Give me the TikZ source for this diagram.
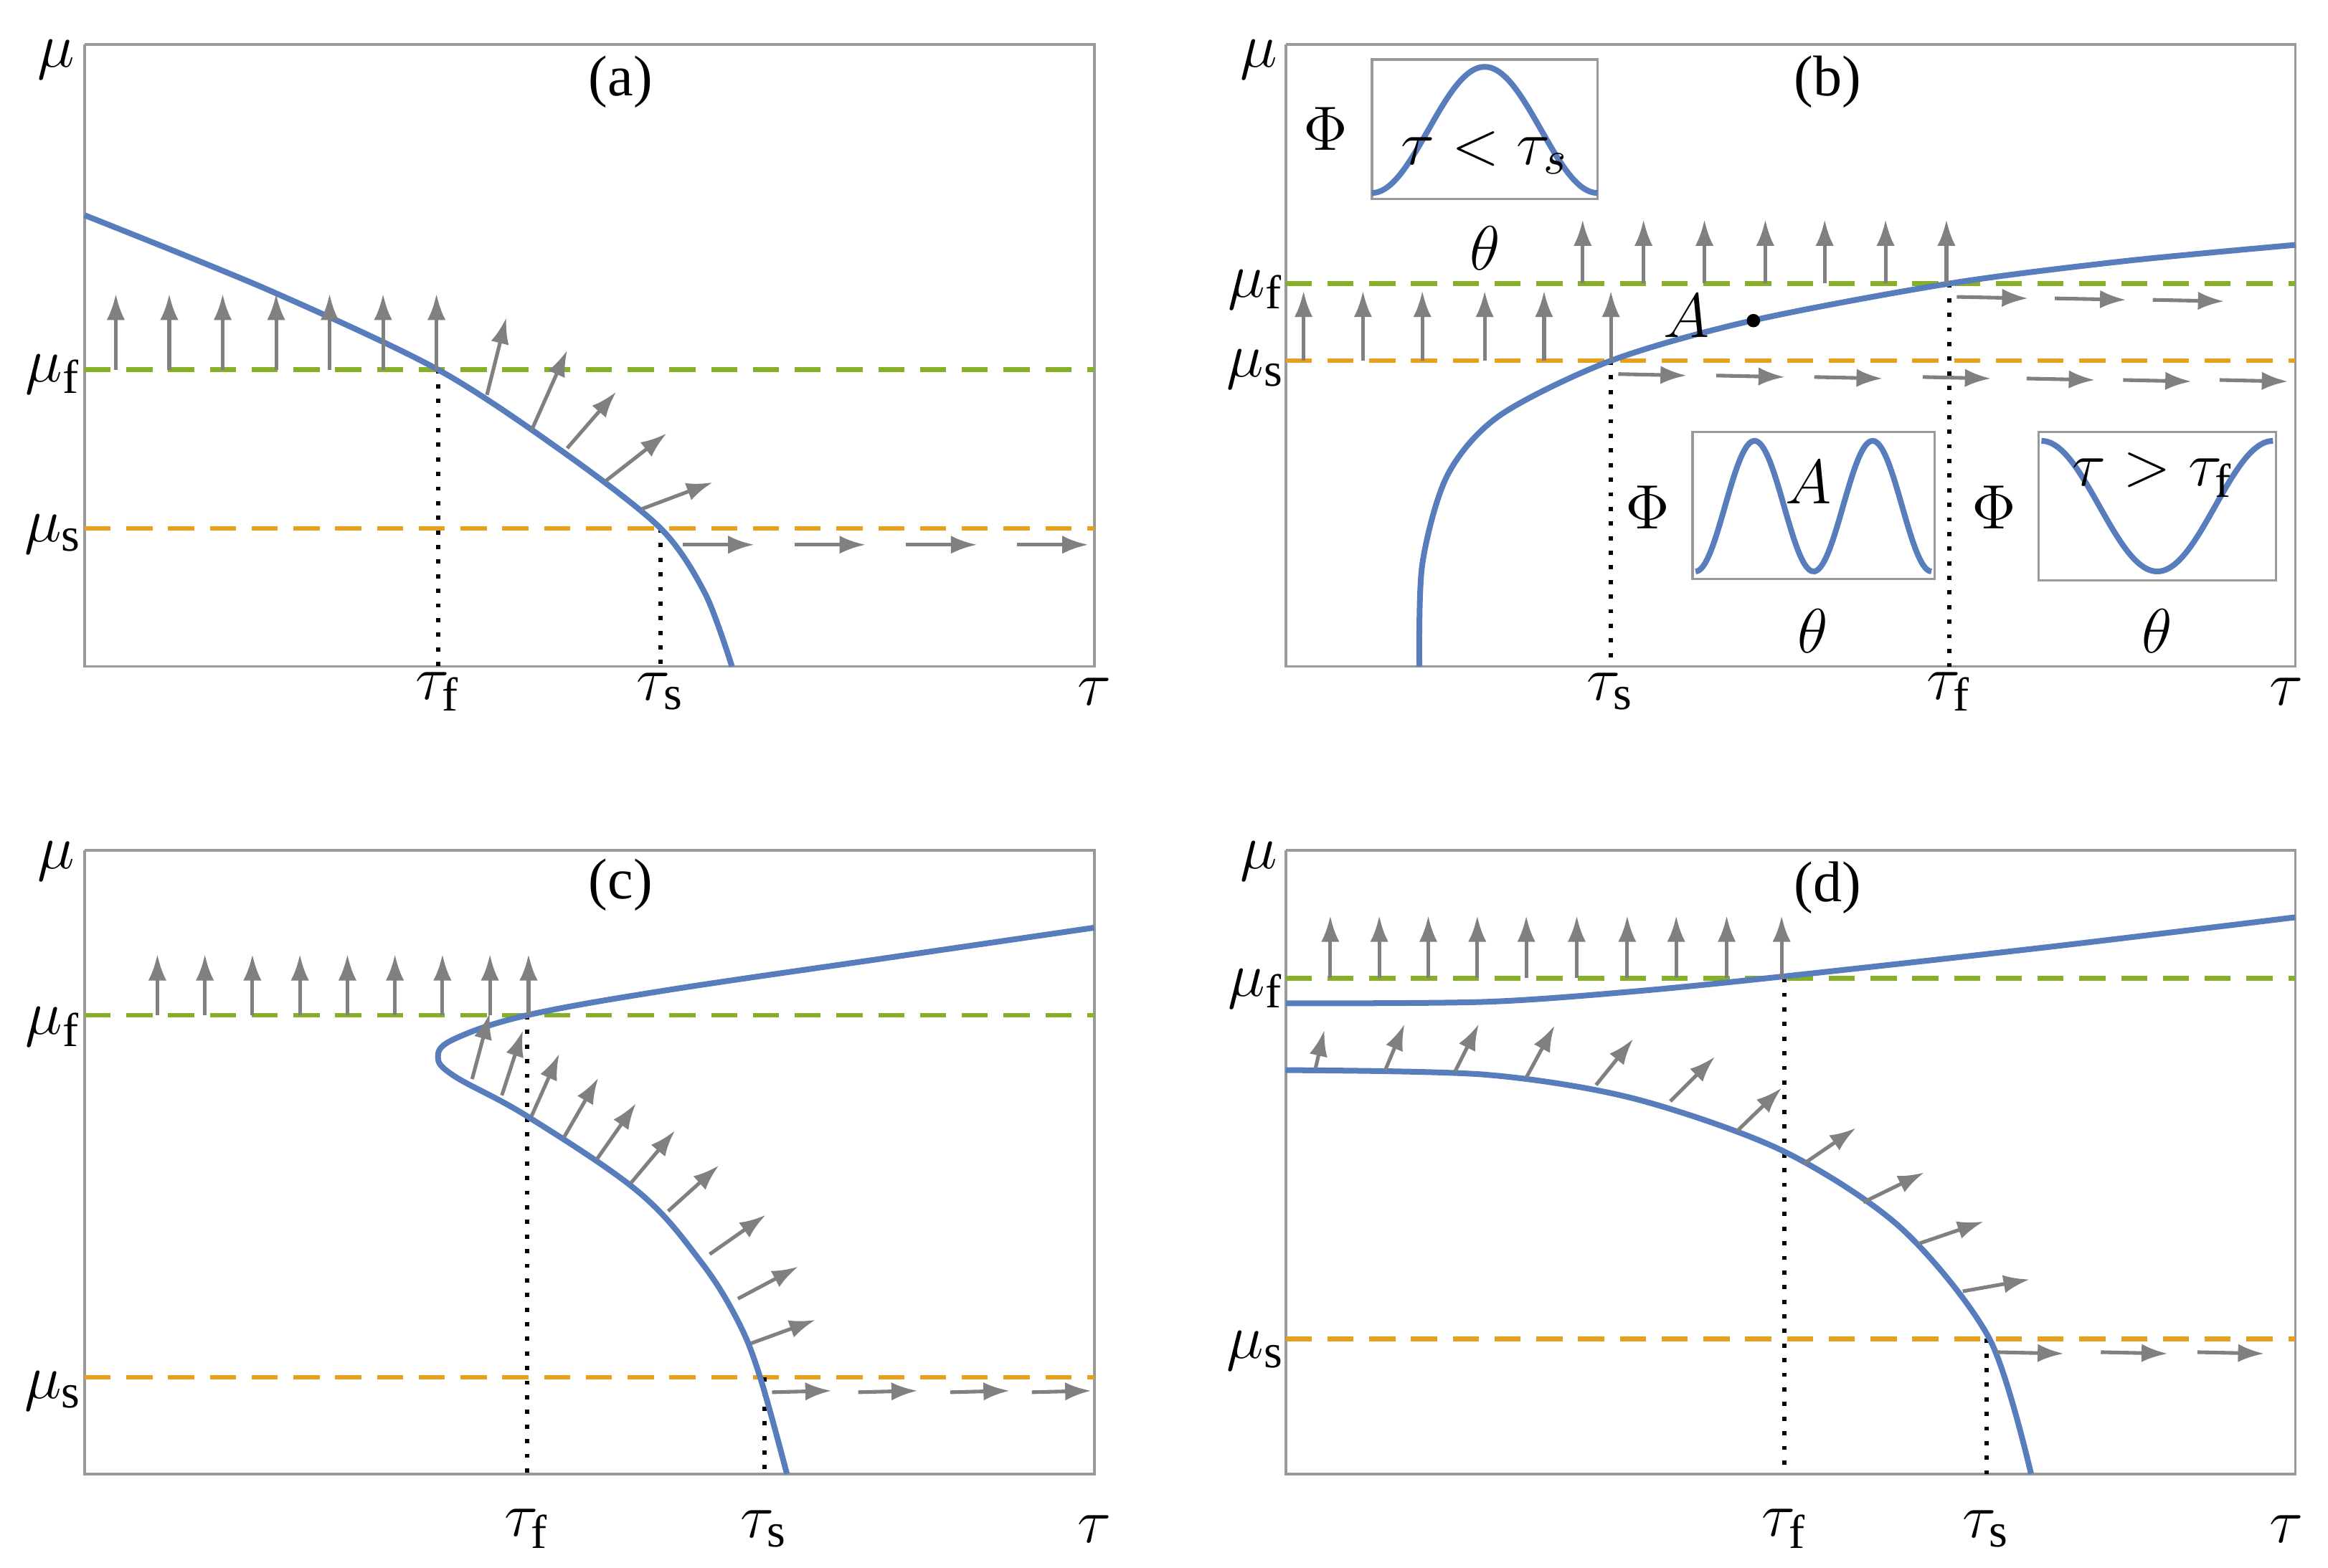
\documentclass[tikz,border=0pt]{standalone}
\usepackage{fontspec}
\setmainfont{Liberation Serif}
\begin{document}
\begin{tikzpicture}[x=0.01cm,y=-0.01cm,
 frame/.style={draw=gray!80,line width=0.5pt},
 blue/.style={draw={rgb,255:red,88;green,125;blue,189},line width=1.1pt},
 gline/.style={draw={rgb,255:red,135;green,175;blue,40},dashed,dash pattern=on 5pt off 3pt,line width=0.9pt},
 oline/.style={draw={rgb,255:red,230;green,160;blue,30},dashed,dash pattern=on 5pt off 3pt,line width=0.9pt},
 dotl/.style={draw=black,dotted,line width=0.8pt},
 ar/.style={draw=gray,line width=0.7pt,-{Latex[length=5pt,width=3.5pt]}},
 lab/.style={font=\fontsize{13}{15}\selectfont},
 plab/.style={font=\fontsize{11}{13}\selectfont}]
\useasboundingbox (0,0) rectangle (1568,1056);
\usetikzlibrary{arrows.meta}
% ===== (a)
\draw[frame] (57,30) -- (57,449) -- (737,449) -- (737,30) -- (57,30);
\draw[gline] (57,249) -- (737,249);
\draw[oline] (57,356) -- (737,356);
\draw[dotl] (295,249) -- (295,449);
\draw[dotl] (445,356) -- (445,449);
\draw[blue] plot[smooth] coordinates {(57,145) (180,195) (295,249) (380,305) (445,356) (475,400) (493,449)};
\foreach \x in {78,114,150,186,222,258,294} \draw[ar] (\x,249) -- (\x,198);
\draw[ar] (328,266) -- (341,214);
\draw[ar] (358,290) -- (382,236);
\draw[ar] (382,302) -- (415,264);
\draw[ar] (408,324) -- (449,292);
\draw[ar] (432,343) -- (480,325);
\foreach \x in {460,535,610,685} \draw[ar] (\x,367) -- (\x+48,367);
\node[lab] (amu) at (38,40) {$\mu$};
\node[lab] (amf) at (36,252) {$\mu_{\mathrm{f}}$};
\node[lab] (ams) at (36,360) {$\mu_{\mathrm{s}}$};
\node[lab] (atf) at (295,466) {$\tau_{\mathrm{f}}$};
\node[lab] (ats) at (445,466) {$\tau_{\mathrm{s}}$};
\node[lab] (at) at (737,466) {$\tau$};
\node[plab] (aa) at (418,55) {(a)};
% ===== (b)
\draw[frame] (866,30) -- (866,449) -- (1546,449) -- (1546,30) -- (866,30);
\draw[gline] (866,191) -- (1546,191);
\draw[oline] (866,243) -- (1546,243);
\draw[dotl] (1085,243) -- (1085,449);
\draw[dotl] (1313,191) -- (1313,449);
\draw[blue] plot[smooth] coordinates {(956,449) (958,380) (975,320) (1010,280) (1085,243) (1180,216) (1313,191) (1430,176) (1546,165)};
\foreach \x in {878,918,958,1000,1040,1085} \draw[ar] (\x,243) -- (\x,196);
\foreach \x in {1066,1107,1148,1189,1229,1270,1311} \draw[ar] (\x,191) -- (\x,148);
\foreach \x/\y in {1318/200,1384/201,1450/202} \draw[ar] (\x,\y) -- (\x+48,\y+1);
\foreach \x/\y in {1090/252,1156/253,1222/254,1295/254,1365/255,1430/256,1495/256} \draw[ar] (\x,\y) -- (\x+46,\y+1);
\fill (1181,216) circle (4.5);
\node[lab] (bA) at (1136,213) {$A$};
\node[lab] (bth) at (1000,167) {$\theta$};
\draw[frame] (924,40) rectangle (1076,134);
\draw[blue] plot[domain=0:1,samples=50,smooth] ({924+152*\x},{130-85*(1-cos(360*\x))/2});
\node[lab] (bp1) at (893,87) {$\Phi$};
\node[lab] (bi1) at (1000,103) {$\tau<\tau_s$};
\draw[frame] (1140,291) rectangle (1303,390);
\draw[blue] plot[domain=0:1,samples=80,smooth] ({1142+159*\x},{385-88*(1-cos(720*\x))/2});
\node[lab] (bA2) at (1218,325) {$A$};
\node[lab] (bp2) at (1110,342) {$\Phi$};
\node[lab] (bt2) at (1221,425) {$\theta$};
\draw[frame] (1373,291) rectangle (1533,391);
\draw[blue] plot[domain=0:1,samples=50,smooth] ({1375+156*\x},{297+88*(1-cos(360*\x))/2});
\node[lab] (bi3) at (1450,320) {$\tau>\tau_{\mathrm{f}}$};
\node[lab] (bp3) at (1343,342) {$\Phi$};
\node[lab] (bt3) at (1453,425) {$\theta$};
\node[lab] (bmu) at (848,40) {$\mu$};
\node[lab] (bmf) at (846,195) {$\mu_{\mathrm{f}}$};
\node[lab] (bms) at (846,249) {$\mu_{\mathrm{s}}$};
\node[lab] (bts) at (1085,466) {$\tau_{\mathrm{s}}$};
\node[lab] (btf) at (1313,466) {$\tau_{\mathrm{f}}$};
\node[lab] (bt) at (1540,466) {$\tau$};
\node[plab] (bb) at (1231,55) {(b)};
% ===== (c)
\draw[frame] (57,573) -- (57,993) -- (737,993) -- (737,573) -- (57,573);
\draw[gline] (57,684) -- (737,684);
\draw[oline] (57,928) -- (737,928);
\draw[dotl] (355,684) -- (355,993);
\draw[dotl] (515,928) -- (515,993);
\draw[blue] plot[smooth,tension=0.6] coordinates {(737,625) (600,645) (450,667) (355,684) (306,700) (295,712) (306,725) (355,752) (430,803) (472,850) (497,890) (512,928) (530,993)};
\foreach \x in {106,138,170,202,234,266,298,330,356} \draw[ar] (\x,684) -- (\x,643);
\foreach \x/\y/\a in {318/727/75,338/738/72,358/752/66,380/766/60,402/781/55,425/797/50,450/816/42,478/845/35,497/875/28,506/905/20} \draw[ar] (\x,\y) -- ++({46*cos(\a)},{-46*sin(\a)});
\foreach \x in {520,578,640,695} \draw[ar] (\x,938) -- (\x+40,937);
\node[lab] (cmu) at (38,580) {$\mu$};
\node[lab] (cmf) at (36,692) {$\mu_{\mathrm{f}}$};
\node[lab] (cms) at (36,937) {$\mu_{\mathrm{s}}$};
\node[lab] (ctf) at (355,1030) {$\tau_{\mathrm{f}}$};
\node[lab] (cts) at (515,1030) {$\tau_{\mathrm{s}}$};
\node[lab] (ct) at (737,1030) {$\tau$};
\node[plab] (cc) at (418,596) {(c)};
% ===== (d)
\draw[frame] (866,573) -- (866,993) -- (1546,993) -- (1546,573) -- (866,573);
\draw[gline] (866,659) -- (1546,659);
\draw[oline] (866,902) -- (1546,902);
\draw[dotl] (1202,659) -- (1202,993);
\draw[dotl] (1338,902) -- (1338,993);
\draw[blue] plot[smooth] coordinates {(866,676) (1000,675) (1100,668) (1200,658) (1380,638) (1546,618)};
\draw[blue] plot[smooth] coordinates {(866,721) (1000,724) (1100,740) (1200,775) (1280,827) (1340,902) (1368,993)};
\foreach \x in {896,929,962,995,1028,1062,1096,1129,1163,1200} \draw[ar] (\x,659) -- (\x,617);
\foreach \x/\y/\u/\v in {886/720/892/694,933/721/946/690,980/722/996/690,1028/726/1047/691,1075/731/1100/700,1125/742/1155/712,1170/762/1200/733,1215/784/1250/760,1255/810/1296/790,1292/838/1336/823,1322/870/1367/862} \draw[ar] (\x,\y) -- (\u,\v);
\foreach \x in {1345,1415,1480} \draw[ar] (\x,911) -- (\x+45,912);
\node[lab] (dmu) at (848,580) {$\mu$};
\node[lab] (dmf) at (846,666) {$\mu_{\mathrm{f}}$};
\node[lab] (dms) at (846,910) {$\mu_{\mathrm{s}}$};
\node[lab] (dtf) at (1202,1030) {$\tau_{\mathrm{f}}$};
\node[lab] (dts) at (1338,1030) {$\tau_{\mathrm{s}}$};
\node[lab] (dt) at (1540,1030) {$\tau$};
\node[plab] (dd) at (1231,598) {(d)};
\end{tikzpicture}
\end{document}
